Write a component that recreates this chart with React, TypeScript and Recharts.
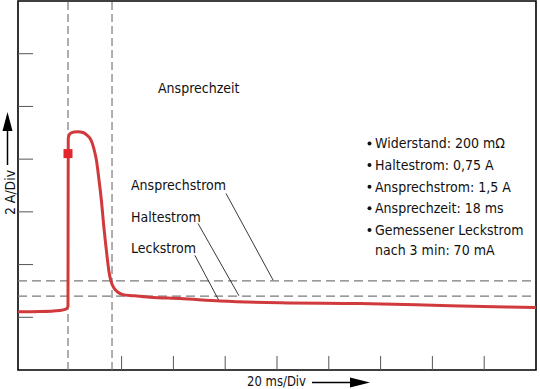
import {
  ComposedChart,
  Line,
  Scatter,
  XAxis,
  YAxis,
  ReferenceLine,
  ReferenceArea,
} from 'recharts';

// time in ms (20 ms/Div), current in A (2 A/Div)
const timeMs = [
  0, 8.5, 16.2, 18.5, 19.3, 19.4, 20.1, 21.6, 23.2, 25.1, 26.6, 28.2, 29.3, 30.3,
  31.3, 32.2, 33.2, 34.2, 35.1, 35.9, 37.1, 38.6, 40.5, 44.4, 51.0, 62.5, 78.0,
  101.2, 132.0, 166.8, 200,
];
const currentA = [
  2.21, 2.22, 2.26, 2.31, 2.42, 8.78, 8.97, 9.03, 9.04, 9.01, 8.91, 8.72, 8.4, 7.95,
  7.19, 6.43, 5.37, 4.47, 3.75, 3.37, 3.1, 2.95, 2.86, 2.82, 2.76, 2.71, 2.62, 2.55,
  2.52, 2.44, 2.37,
];

const markerPoint = [{ t: 19.3, v: 8.21 }];

const xTicks = [40, 60, 80, 100, 120, 140, 160, 180];
const yTicks = [2, 4, 6, 8, 10, 12];
// inward tick lengths, in data units (about 14-15 px)
const xTickLen = 0.53;
const yTickLen = 5.8;

const onsetMs = 19.3;
const releaseMs = 36.3;
const triggerLevel = 3.38;
const holdLevel = 2.8;

const leaders = [
  { from: { t: 80.3, v: 6.7 }, to: { t: 98.5, v: 3.41 } },
  { from: { t: 69.5, v: 5.56 }, to: { t: 85.3, v: 2.82 } },
  { from: { t: 68.3, v: 4.35 }, to: { t: 77.6, v: 2.63 } },
];

const labels = ['Ansprechstrom', 'Haltestrom', 'Leckstrom'];
const bullets = [
  'Widerstand: 200 mΩ',
  'Haltestrom: 0,75 A',
  'Ansprechstrom: 1,5 A',
  'Ansprechzeit: 18 ms',
  'Gemessener Leckstrom',
];
const bulletTail = 'nach 3 min: 70 mA';

const data = timeMs.map((t, i) => ({ t, v: currentA[i] }));

const FONT = '"DejaVu Sans Condensed", "Liberation Sans", Arial, sans-serif';
const DASH = '#7a7a7a';

const Square = (props: any) => {
  const { cx, cy } = props;
  return <rect x={cx - 4.5} y={cy - 4.5} width={9} height={9} fill="#e3262b" />;
};

export default function App() {
  return (
    <div style={{ position: 'absolute', left: 0, top: 0, width: 540, height: 389, background: '#fff' }}>
      <ComposedChart
        width={540}
        height={389}
        data={data}
        margin={{ top: 1, right: 4, left: 18, bottom: 19 }}
      >
        <XAxis dataKey="t" type="number" domain={[0, 200]} hide />
        <YAxis type="number" domain={[0, 14]} hide />
        <ReferenceArea x1={0} x2={200} y1={0} y2={14} fill="none" stroke="#000" strokeWidth={1.6} />
        {xTicks.map((t) => (
          <ReferenceLine
            key={'x' + t}
            segment={[
              { x: t, y: 0 },
              { x: t, y: xTickLen },
            ]}
            stroke="#555"
            strokeWidth={1}
          />
        ))}
        {yTicks.map((v) => (
          <ReferenceLine
            key={'y' + v}
            segment={[
              { x: 0, y: v },
              { x: yTickLen, y: v },
            ]}
            stroke="#555"
            strokeWidth={1}
          />
        ))}
        <ReferenceLine x={onsetMs} stroke={DASH} strokeDasharray="8 4" strokeWidth={1.2} />
        <ReferenceLine x={releaseMs} stroke={DASH} strokeDasharray="8 4" strokeWidth={1.2} />
        <ReferenceLine y={triggerLevel} stroke={DASH} strokeDasharray="9 5" strokeWidth={1.2} />
        <ReferenceLine y={holdLevel} stroke={DASH} strokeDasharray="9 5" strokeWidth={1.2} />
        {leaders.map((l, i) => (
          <ReferenceLine
            key={i}
            segment={[
              { x: l.from.t, y: l.from.v },
              { x: l.to.t, y: l.to.v },
            ]}
            stroke="#222"
            strokeWidth={0.9}
          />
        ))}
        <Line
          type="monotone"
          dataKey="v"
          stroke="#d13a3c"
          strokeWidth={3}
          dot={false}
          activeDot={false}
          isAnimationActive={false}
        />
        <Scatter data={markerPoint} dataKey="v" shape={<Square />} isAnimationActive={false} />
      </ComposedChart>

      <svg
        width={540}
        height={389}
        style={{ position: 'absolute', left: 0, top: 0, pointerEvents: 'none' }}
        fontFamily={FONT}
        fontSize={14}
        fill="#111"
      >
        <text x={158} y={93}>Ansprechzeit</text>
        <text x={131} y={190}>{labels[0]}</text>
        <text x={131} y={221.7}>{labels[1]}</text>
        <text x={131} y={253.3}>{labels[2]}</text>
        {bullets.map((b, i) => (
          <g key={b}>
            <circle cx={369.5} cy={143.5 + i * 21.6} r={2} fill="#111" />
            <text x={375} y={148.3 + i * 21.6}>{b}</text>
          </g>
        ))}
        <text x={375} y={255}>{bulletTail}</text>

        <text x={247} y={385.5} textLength={59} lengthAdjust="spacingAndGlyphs">20 ms/Div</text>
        <line x1={312} y1={382.5} x2={356} y2={382.5} stroke="#000" strokeWidth={1.5} />
        <polygon points="350,377.5 370,382.5 350,387.5" fill="#000" />

        <text
          x={15}
          y={215}
          transform="rotate(-90 15 215)"
          textLength={45}
          lengthAdjust="spacingAndGlyphs"
        >
          2 A/Div
        </text>
        <line x1={7.5} y1={165} x2={7.5} y2={126} stroke="#000" strokeWidth={1.5} />
        <polygon points="2.5,131 7.5,112 12.5,131" fill="#000" />
      </svg>
    </div>
  );
}
